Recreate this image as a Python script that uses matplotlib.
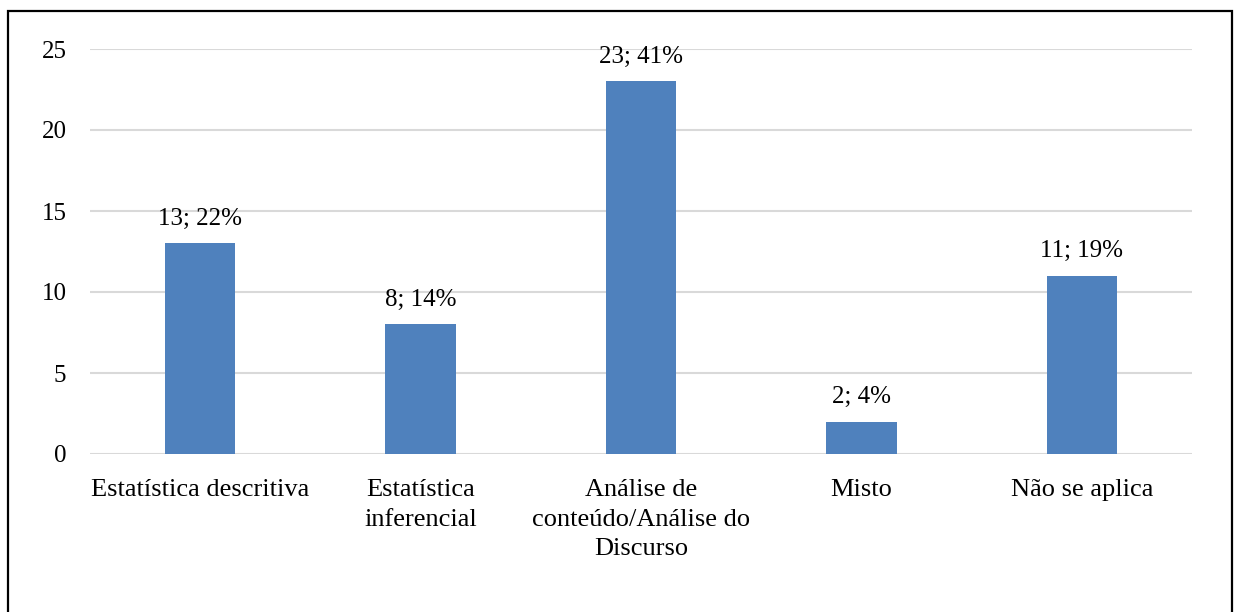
import matplotlib
matplotlib.use("Agg")
import matplotlib.pyplot as plt
from matplotlib.patches import Rectangle

categorias = ["Estatística descritiva", "Estatística\ninferencial",
              "Análise de\nconteúdo/Análise do\nDiscurso", "Misto", "Não se aplica"]
valores = [13, 8, 23, 2, 11]
percentuais = [22, 14, 41, 4, 19]

plt.rcParams['font.family'] = ['Liberation Serif', 'DejaVu Serif']

fig = plt.figure(figsize=(12.41, 6.12), dpi=100)
ax = fig.add_axes([90 / 1241, (612 - 454) / 612, 1102 / 1241, 405 / 612])

x = range(len(categorias))
bars = ax.bar(x, valores, width=0.32, color='#4F81BD', zorder=3)

for b, v, p in zip(bars, valores, percentuais):
    ax.annotate(f"{v}; {p}%", (b.get_x() + b.get_width() / 2, v),
                xytext=(0, 10), textcoords='offset points',
                ha='center', va='bottom', fontsize=18)

ax.set_xlim(-0.5, len(categorias) - 0.5)
ax.set_ylim(0, 25)
ax.set_yticks(range(0, 26, 5))
ax.set_xticks(list(x))
ax.set_xticklabels(categorias, fontsize=19, linespacing=1.45)
ax.tick_params(axis='both', length=0)
ax.tick_params(axis='y', pad=17, labelsize=18)
ax.tick_params(axis='x', pad=18)
ax.grid(axis='y', color='#D9D9D9', linewidth=1.5, zorder=0)
for s in ax.spines.values():
    s.set_visible(False)

# moldura da figura (sem a borda inferior, cortada)
fig.add_artist(Rectangle((8 / 1241, -0.05), 1224 / 1241, 1.05 - 11 / 612,
                         transform=fig.transFigure, fill=False,
                         edgecolor='black', linewidth=1.6, clip_on=False))

fig.savefig("out.png", dpi=100)
